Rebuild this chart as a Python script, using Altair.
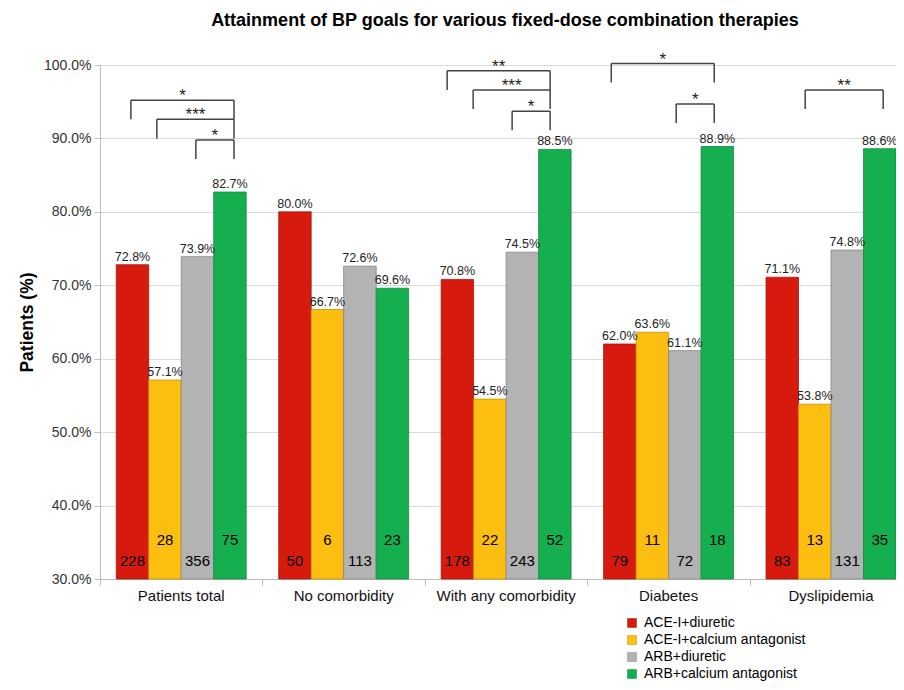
import altair as alt
import pandas as pd

categories = ["Patients total", "No comorbidity", "With any comorbidity", "Diabetes", "Dyslipidemia"]
series = ["ACE-I+diuretic", "ACE-I+calcium antagonist", "ARB+diuretic", "ARB+calcium antagonist"]
colors = ["#d71a0e", "#fdbe12", "#b3b3b3", "#15af50"]
strokes = ["#9e1a12", "#c3920e", "#858585", "#148a42"]

pct_ace_diu = [72.8, 80.0, 70.8, 62.0, 71.1]
pct_ace_ca = [57.1, 66.7, 54.5, 63.6, 53.8]
pct_arb_diu = [73.9, 72.6, 74.5, 61.1, 74.8]
pct_arb_ca = [82.7, 69.6, 88.5, 88.9, 88.6]

n_ace_diu = [228, 50, 178, 79, 83]
n_ace_ca = [28, 6, 22, 11, 13]
n_arb_diu = [356, 113, 243, 72, 131]
n_arb_ca = [75, 23, 52, 18, 35]

y_ticks = [30, 40, 50, 60, 70, 80, 90, 100]

# significance brackets (x in group units, y in % units)
br_x1 = [0.19, 0.35, 0.59, 2.137, 2.297, 2.537, 3.147, 3.547, 4.341]
br_x2 = [0.825, 0.825, 0.825, 2.771, 2.771, 2.771, 3.781, 3.781, 4.821]
br_y = [95.2, 92.6, 89.8, 99.2, 96.6, 93.7, 100.2, 94.7, 96.6]
br_label = ["*", "***", "*", "**", "***", "*", "*", "*", "**"]
leg_len = 2.6

FONT = "Liberation Sans"
GAP = 0.1
BW = 0.2

pcts = [pct_ace_diu, pct_ace_ca, pct_arb_diu, pct_arb_ca]
ns = [n_ace_diu, n_ace_ca, n_arb_diu, n_arb_ca]
rows = []
for j, s in enumerate(series):
    for i, c in enumerate(categories):
        x0 = i + GAP + j * BW
        rows.append({
            "series": s, "category": c,
            "x0": x0, "x1": x0 + BW, "xc": x0 + BW / 2,
            "pct": pcts[j][i], "base": 30,
            "pct_label": f"{pcts[j][i]:.1f}%",
            "n": str(ns[j][i]),
            "ny": 32.4 if j % 2 == 0 else 35.3,
        })
df = pd.DataFrame(rows)

cat_df = pd.DataFrame({"category": categories, "xc": [i + 0.5 for i in range(len(categories))]})

br_df = pd.DataFrame({"x1": br_x1, "x2": br_x2, "y": br_y, "label": br_label})
br_df["yb"] = br_df["y"] - leg_len
br_df["xm"] = (br_df["x1"] + br_df["x2"]) / 2

W, H = 796, 514
xscale = alt.Scale(domain=[0, 4.9], nice=False, zero=False)
yscale = alt.Scale(domain=[30, 100], nice=False, zero=False)

base = alt.Chart(df)

bars = base.mark_bar(strokeWidth=0.8).encode(
    x=alt.X("x0:Q", scale=xscale,
            axis=alt.Axis(values=[0, 1, 2, 3, 4], labels=False, grid=False, title=None,
                          tickSize=6, tickColor="#bdbdbd", domainColor="#bdbdbd")),
    x2="x1:Q",
    y=alt.Y("pct:Q", scale=yscale,
            axis=alt.Axis(values=y_ticks, labelExpr="format(datum.value, '.1f') + '%'",
                          title="Patients (%)", titleFontSize=17.5, titleFontWeight="bold",
                          titleFont=FONT, titleColor="#000", titlePadding=7,
                          labelFont=FONT, labelFontSize=14, labelColor="#333",
                          tickSize=6, tickColor="#bdbdbd", domainColor="#bdbdbd",
                          gridColor="#d9d9d9", labelPadding=3)),
    y2="base:Q",
    color=alt.Color("series:N", scale=alt.Scale(domain=series, range=colors),
                    legend=alt.Legend(title=None, orient="none", legendX=525, legendY=551,
                                      symbolType="square", symbolSize=81,
                                      symbolStrokeColor="#777", symbolStrokeWidth=0.5,
                                      labelFont=FONT, labelFontSize=14, labelColor="#000",
                                      labelLimit=400,
                                      rowPadding=3, padding=0, labelOffset=5)),
    stroke=alt.Stroke("series:N", scale=alt.Scale(domain=series, range=strokes), legend=None),
)

val_text = base.mark_text(font=FONT, fontSize=12.5, color="#222", baseline="alphabetic", dy=-4).encode(
    x=alt.X("xc:Q", scale=xscale), y=alt.Y("pct:Q", scale=yscale), text="pct_label:N")

n_text = base.mark_text(font=FONT, fontSize=15, color="#000", baseline="middle").encode(
    x=alt.X("xc:Q", scale=xscale), y=alt.Y("ny:Q", scale=yscale), text="n:N")

cat_text = alt.Chart(cat_df).mark_text(font=FONT, fontSize=15, color="#111", baseline="middle").encode(
    x=alt.X("xc:Q", scale=xscale), y=alt.value(H + 17), text="category:N")

bchart = alt.Chart(br_df)
br_h = bchart.mark_rule(color="#444", strokeWidth=1.5).encode(
    x=alt.X("x1:Q", scale=xscale), x2="x2:Q", y=alt.Y("y:Q", scale=yscale))
br_l = bchart.mark_rule(color="#444", strokeWidth=1.5).encode(
    x=alt.X("x1:Q", scale=xscale), y=alt.Y("y:Q", scale=yscale), y2="yb:Q")
br_r = bchart.mark_rule(color="#444", strokeWidth=1.5).encode(
    x=alt.X("x2:Q", scale=xscale), y=alt.Y("y:Q", scale=yscale), y2="yb:Q")
br_t = bchart.mark_text(font=FONT, fontSize=17, color="#222", baseline="alphabetic", dy=1).encode(
    x=alt.X("xm:Q", scale=xscale), y=alt.Y("y:Q", scale=yscale), text="label:N")

chart = alt.layer(bars, val_text, n_text, cat_text, br_h, br_l, br_r, br_t).properties(
    width=W, height=H,
    title=alt.TitleParams("Attainment of BP goals for various fixed-dose combination therapies",
                          font=FONT, fontSize=18, fontWeight="bold", color="#000",
                          anchor="middle", frame="group", offset=21, dx=7),
    padding={"left": 92, "top": 57, "right": 0, "bottom": 103},
    autosize=alt.AutoSizeParams(type="none"),
).configure_view(stroke=None).configure(background="white")

chart.save("out.html", embed_options={"renderer": "svg", "actions": False})
